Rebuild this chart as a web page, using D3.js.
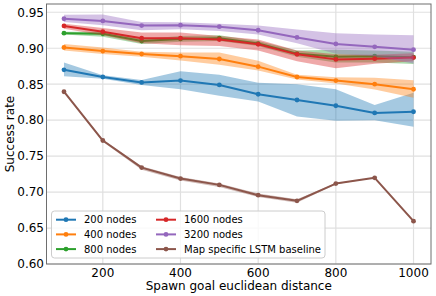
<!DOCTYPE html>
<html>
<head>
<meta charset="utf-8">
<script src="https://cdn.jsdelivr.net/npm/d3@7"></script>
<style>
  body { margin: 0; background: #fff; }
  text { font-family: "DejaVu Sans", sans-serif; }
</style>
</head>
<body>
<div id="chart"></div>
<script>
const distances = [100, 200, 300, 400, 500, 600, 700, 800, 900, 1000];
const yTicks = [0.60, 0.65, 0.70, 0.75, 0.80, 0.85, 0.90, 0.95];
const xTicks = [200, 400, 600, 800, 1000];

const nodes200 = [0.870, 0.860, 0.8525, 0.855, 0.849, 0.836, 0.828, 0.820, 0.810, 0.8117];
const nodes200Lo = [0.861, 0.8575, 0.849, 0.843, 0.834, 0.826, 0.805, 0.799, 0.800, 0.791];
const nodes200Hi = [0.880, 0.8625, 0.856, 0.868, 0.863, 0.852, 0.850, 0.843, 0.821, 0.838];

const nodes400 = [0.901, 0.896, 0.892, 0.889, 0.885, 0.8744, 0.860, 0.855, 0.850, 0.843];
const nodes400Lo = [0.897, 0.892, 0.888, 0.883, 0.877, 0.869, 0.8565, 0.851, 0.8425, 0.831];
const nodes400Hi = [0.906, 0.901, 0.895, 0.894, 0.894, 0.8827, 0.863, 0.8595, 0.859, 0.8555];

const nodes800 = [0.921, 0.920, 0.910, 0.913, 0.914, 0.9065, 0.8925, 0.888, 0.889, 0.8875];
const nodes800Lo = [0.919, 0.916, 0.906, 0.909, 0.910, 0.903, 0.888, 0.880, 0.880, 0.878];
const nodes800Hi = [0.923, 0.923, 0.913, 0.917, 0.918, 0.910, 0.897, 0.898, 0.897, 0.895];

const nodes1600 = [0.931, 0.923, 0.914, 0.914, 0.912, 0.9055, 0.8915, 0.8845, 0.8855, 0.887];
const nodes1600Lo = [0.927, 0.918, 0.907, 0.904, 0.903, 0.897, 0.882, 0.872, 0.8785, 0.882];
const nodes1600Hi = [0.934, 0.928, 0.922, 0.922, 0.917, 0.912, 0.897, 0.8915, 0.891, 0.893];

const nodes3200 = [0.941, 0.938, 0.9315, 0.932, 0.930, 0.925, 0.915, 0.906, 0.902, 0.898];
const nodes3200Lo = [0.9366, 0.932, 0.925, 0.9263, 0.924, 0.919, 0.907, 0.8925, 0.889, 0.8786];
const nodes3200Hi = [0.9464, 0.947, 0.9366, 0.936, 0.934, 0.9315, 0.926, 0.921, 0.919, 0.918];

const lstm = [0.8395, 0.7717, 0.734, 0.7188, 0.710, 0.6957, 0.6878, 0.7118, 0.7198, 0.6595];
const lstmLo = [0.839, 0.770, 0.731, 0.716, 0.707, 0.693, 0.685, 0.711, 0.7195, 0.659];
const lstmHi = [0.840, 0.773, 0.736, 0.721, 0.712, 0.698, 0.690, 0.7125, 0.720, 0.660];

const seriesNames = ["200 nodes", "400 nodes", "800 nodes", "1600 nodes", "3200 nodes", "Map specific LSTM baseline"];
const colors = ["#1f77b4", "#ff7f0e", "#2ca02c", "#d62728", "#9467bd", "#8c564b"];

const series = [
  { mean: nodes200, lo: nodes200Lo, hi: nodes200Hi },
  { mean: nodes400, lo: nodes400Lo, hi: nodes400Hi },
  { mean: nodes800, lo: nodes800Lo, hi: nodes800Hi },
  { mean: nodes1600, lo: nodes1600Lo, hi: nodes1600Hi },
  { mean: nodes3200, lo: nodes3200Lo, hi: nodes3200Hi },
  { mean: lstm, lo: lstmLo, hi: lstmHi }
].map((s, i) => ({ ...s, name: seriesNames[i], color: colors[i] }));

const width = 436, height = 296;
const plot = { left: 46.5, right: 431, top: 4, bottom: 264 };

const svg = d3.select("#chart").append("svg")
  .attr("width", width)
  .attr("height", height);

const x = d3.scaleLinear().domain([55, 1045]).range([plot.left, plot.right]);
const y = d3.scaleLinear().domain([0.60, 0.9615]).range([plot.bottom, plot.top]);

// grid
svg.append("g").selectAll("line.gy").data(yTicks).join("line")
  .attr("x1", plot.left).attr("x2", plot.right)
  .attr("y1", d => y(d)).attr("y2", d => y(d))
  .attr("stroke", "#e0e0e0").attr("stroke-width", 1.2);
svg.append("g").selectAll("line.gx").data(xTicks).join("line")
  .attr("x1", d => x(d)).attr("x2", d => x(d))
  .attr("y1", plot.top).attr("y2", plot.bottom)
  .attr("stroke", "#e0e0e0").attr("stroke-width", 1.2);

const area = d3.area()
  .x((d, i) => x(distances[i]))
  .y0(d => y(d[0]))
  .y1(d => y(d[1]));
const line = d3.line()
  .x((d, i) => x(distances[i]))
  .y(d => y(d));

// band first, then line + markers, series by series
const g = svg.append("g");
series.forEach(s => {
  g.append("path")
    .datum(s.lo.map((v, i) => [v, s.hi[i]]))
    .attr("d", area)
    .attr("fill", s.color)
    .attr("fill-opacity", 0.4);
  g.append("path")
    .datum(s.mean)
    .attr("d", line)
    .attr("fill", "none")
    .attr("stroke", s.color)
    .attr("stroke-width", 2)
    .attr("stroke-linejoin", "round");
  g.append("g").selectAll("circle").data(s.mean).join("circle")
    .attr("cx", (d, i) => x(distances[i]))
    .attr("cy", d => y(d))
    .attr("r", 2.4)
    .attr("fill", s.color);
});

// spines
svg.append("rect")
  .attr("x", plot.left).attr("y", plot.top)
  .attr("width", plot.right - plot.left).attr("height", plot.bottom - plot.top)
  .attr("fill", "none").attr("stroke", "#6e6e6e").attr("stroke-width", 1);

// tick labels
svg.append("g").selectAll("text").data(yTicks).join("text")
  .attr("x", plot.left - 2.5)
  .attr("y", d => y(d))
  .attr("dy", "0.36em")
  .attr("text-anchor", "end")
  .attr("font-size", 12)
  .text(d => d3.format(".2f")(d));
svg.append("g").selectAll("text").data(xTicks).join("text")
  .attr("x", d => x(d))
  .attr("y", 276.5)
  .attr("text-anchor", "middle")
  .attr("font-size", 12)
  .text(d => d);

// axis titles
svg.append("text")
  .attr("x", (plot.left + plot.right) / 2)
  .attr("y", 290)
  .attr("text-anchor", "middle")
  .attr("font-size", 12)
  .text("Spawn goal euclidean distance");
svg.append("text")
  .attr("transform", `translate(13.5,${(plot.top + plot.bottom) / 2}) rotate(-90)`)
  .attr("text-anchor", "middle")
  .attr("font-size", 12)
  .text("Success rate");

// legend
const legend = svg.append("g");
legend.append("rect")
  .attr("x", 51.5).attr("y", 211)
  .attr("width", 273.5).attr("height", 47)
  .attr("rx", 3)
  .attr("fill", "#fff").attr("fill-opacity", 0.8)
  .attr("stroke", "#cccccc").attr("stroke-width", 1);
series.forEach((s, i) => {
  const col = Math.floor(i / 3), row = i % 3;
  const lx = col === 0 ? 56 : 156;
  const ly = 219.7 + row * 14.7;
  legend.append("line")
    .attr("x1", lx).attr("x2", lx + 20)
    .attr("y1", ly).attr("y2", ly)
    .attr("stroke", s.color).attr("stroke-width", 2);
  legend.append("circle")
    .attr("cx", lx + 10).attr("cy", ly).attr("r", 2.4)
    .attr("fill", s.color);
  legend.append("text")
    .attr("x", lx + 28)
    .attr("y", ly)
    .attr("dy", "0.36em")
    .attr("font-size", 10)
    .text(s.name);
});
</script>
</body>
</html>
